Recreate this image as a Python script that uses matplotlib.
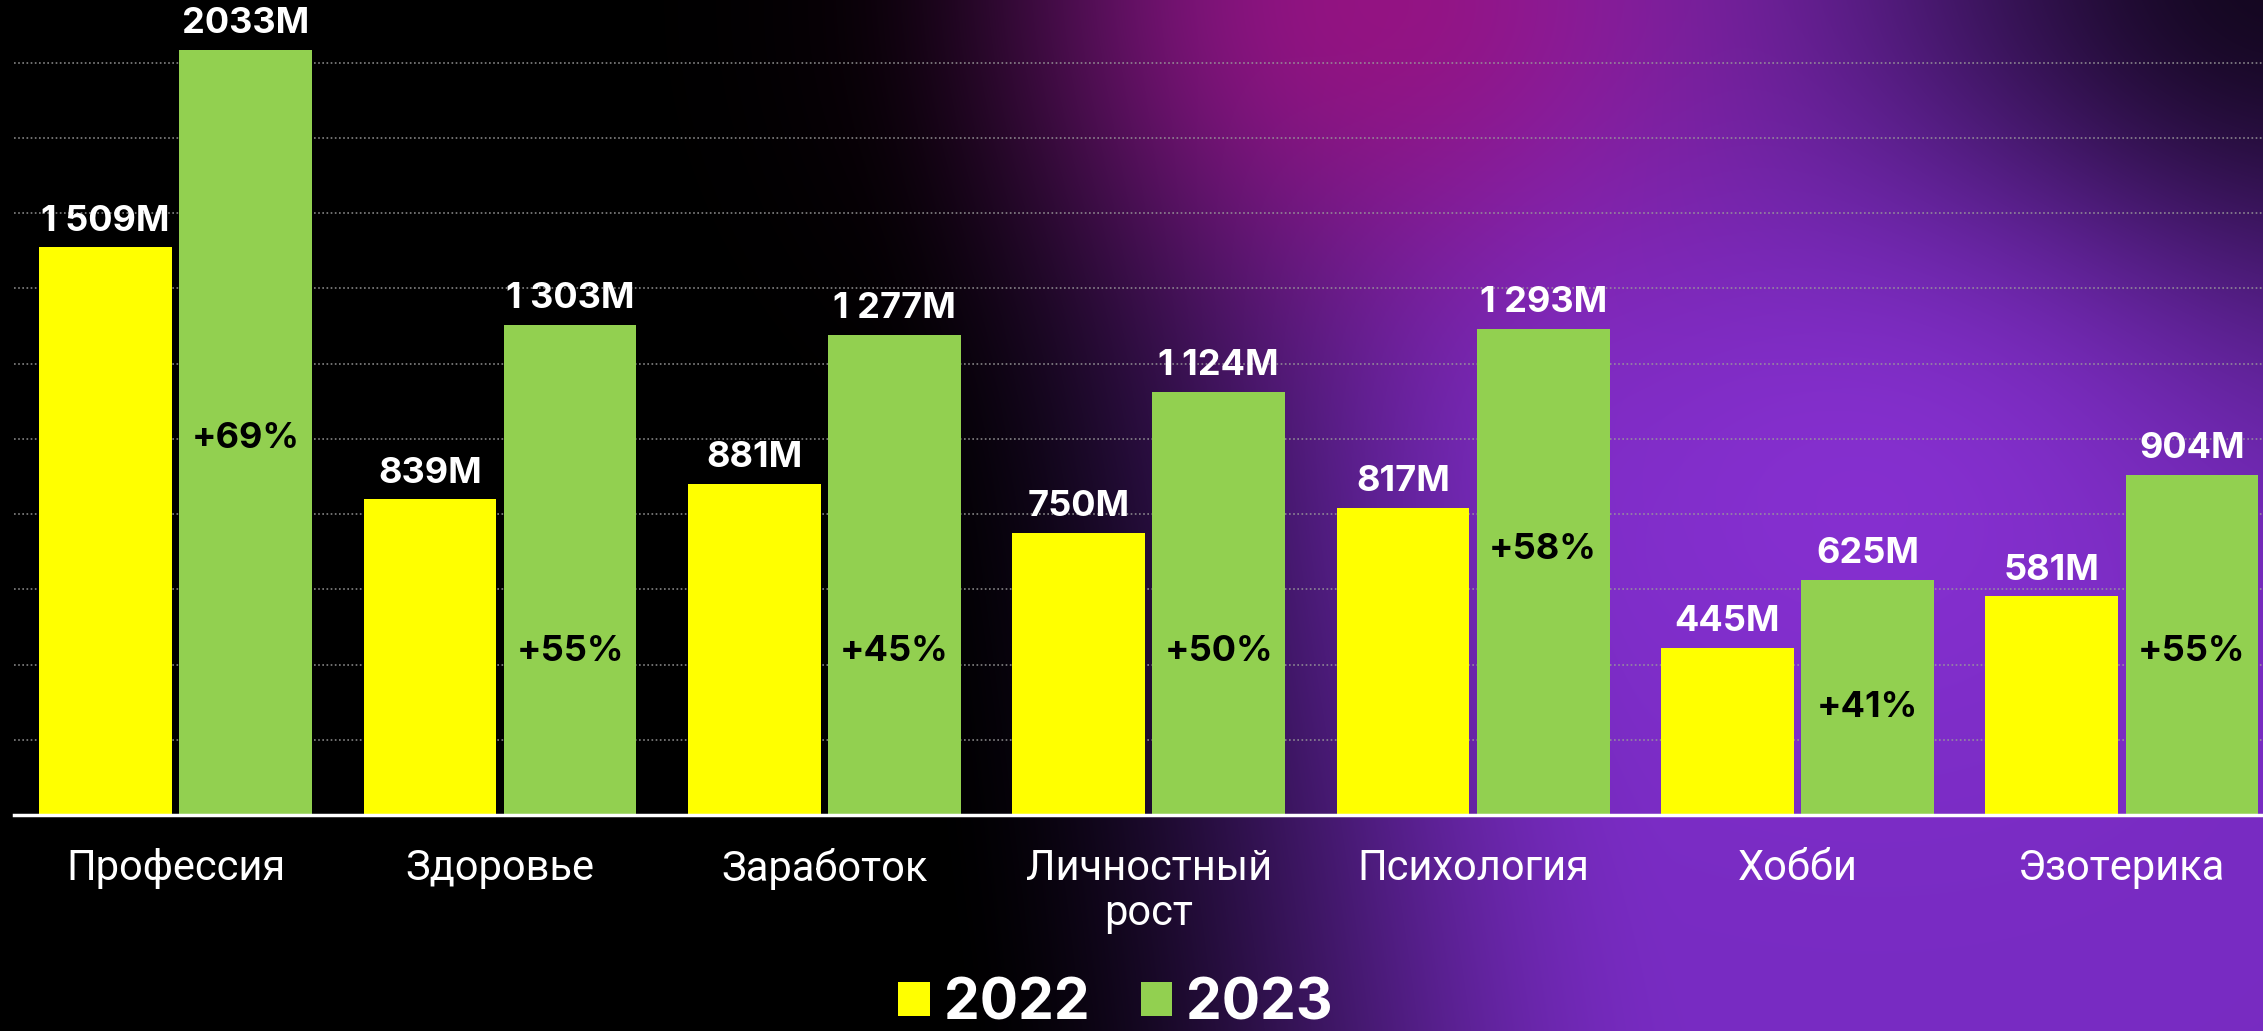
import matplotlib
matplotlib.use("Agg")
import matplotlib.pyplot as plt
import numpy as np

# data
categories = ["Профессия", "Здоровье", "Заработок", "Личностный\nрост",
              "Психология", "Хобби", "Эзотерика"]
values_2022 = [1509, 839, 881, 750, 817, 445, 581]
values_2023 = [2033, 1303, 1277, 1124, 1293, 625, 904]
labels_2022 = ["1 509M", "839M", "881M", "750M", "817M", "445M", "581M"]
labels_2023 = ["2033M", "1 303M", "1 277M", "1 124M", "1 293M", "625M", "904M"]
growth = ["+69%", "+55%", "+45%", "+50%", "+58%", "+41%", "+55%"]
series = ["2022", "2023"]

# where the growth label sits inside each green bar (data units)
growth_y = [1000, 436, 436, 436, 705, 287, 436]

YELLOW = "#FFFF00"
GREEN = "#92D050"
W, H = 2263, 1031


def background() -> np.ndarray:
    y, x = np.mgrid[0:H, 0:W].astype(float)
    purple = np.array([0.47, 0.17, 0.76])
    violet = np.array([0.56, 0.20, 0.86])
    magenta = np.array([0.60, 0.07, 0.50])
    # black on the left, purple on the right; ramp starts earlier near the top
    start = 820 + 120 * (y / H)
    t = np.clip((x - start) / 760, 0, 1)
    t = t * t * (3 - 2 * t)
    corner = np.exp(-(((x - W) / 430) ** 2 + (y / 380) ** 2))
    t = t * (1 - 0.85 * corner)
    img = purple[None, None, :] * t[..., None]
    bright = np.exp(-(((x - 1900) / 380) ** 2 + ((y - 470) / 300) ** 2)) * 0.7
    img = img * (1 - bright[..., None]) + violet[None, None, :] * bright[..., None]
    glow = np.exp(-(((x - 1374) / 320) ** 2 + (y / 270) ** 2)) * 0.9
    img = img * (1 - glow[..., None]) + magenta[None, None, :] * glow[..., None]
    return np.clip(img, 0, 1)


def main() -> None:
    fig = plt.figure(figsize=(W / 100, H / 100), dpi=100)
    bg = fig.add_axes([0, 0, 1, 1])
    bg.imshow(background(), aspect="auto", extent=[0, 1, 0, 1])
    bg.set_axis_off()

    ax = fig.add_axes([14 / W, 216 / H, 1 - 14 / W, 815 / H])
    ax.set_facecolor("none")
    x = np.arange(len(categories))
    width = 0.409
    off = 0.216
    b1 = ax.bar(x - off, values_2022, width, color=YELLOW, zorder=3, label=series[0])
    b2 = ax.bar(x + off, values_2023, width, color=GREEN, zorder=3, label=series[1])

    bold = dict(family="Inter", weight="bold", fontsize=26)
    for xi, v, s in zip(x - off, values_2022, labels_2022):
        ax.text(xi, v + 45, s, ha="center", va="baseline", color="white", **bold)
    for xi, v, s in zip(x + off, values_2023, labels_2023):
        ax.text(xi, v + 45, s, ha="center", va="baseline", color="white", **bold)
    for xi, gy, s in zip(x + off, growth_y, growth):
        ax.text(xi, gy, s, ha="center", va="center", color="black", zorder=4, **bold)

    ax.set_xlim(-0.498, 6.435)
    ax.set_ylim(0, 2167)
    ax.set_yticks(np.arange(200, 2001, 200))
    ax.yaxis.grid(True, linestyle=(0, (1, 1.5)), color="#9a9a9a", linewidth=1.2, alpha=0.85, zorder=0)
    ax.tick_params(axis="y", left=False, labelleft=False)
    ax.set_xticks(x)
    ax.set_xticklabels(categories, color="white", fontsize=30, family="Roboto",
                       linespacing=1.15)
    ax.tick_params(axis="x", bottom=False, pad=20)
    for side in ["top", "right", "left"]:
        ax.spines[side].set_visible(False)
    ax.spines["bottom"].set_color("white")
    ax.spines["bottom"].set_linewidth(2.5)
    ax.spines["bottom"].set_zorder(5)

    fig.legend(handles=[b1, b2], loc="lower center", bbox_to_anchor=(0.493, -0.05),
               ncol=2, frameon=False, labelcolor="white",
               prop=dict(family="Inter", weight="bold", size=41),
               handlelength=0.55, handleheight=0.55, handletextpad=0.25,
               columnspacing=0.9)

    fig.savefig("out.png", dpi=100)
    plt.close(fig)


if __name__ == "__main__":
    main()
